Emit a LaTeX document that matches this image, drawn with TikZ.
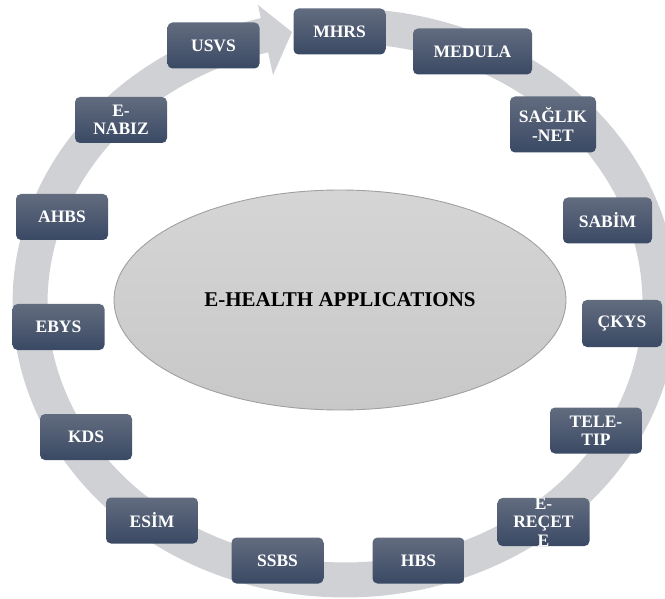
\documentclass[tikz,border=0pt]{standalone}
\usepackage{fontspec}
\setmainfont{Liberation Serif}
\newfontfamily\tnr{Liberation Serif}
\definecolor{ringcol}{RGB}{208,209,213}
\definecolor{boxtop}{RGB}{98,108,127}
\definecolor{boxbot}{RGB}{58,73,100}
\definecolor{elltop}{RGB}{213,213,213}
\definecolor{ellbot}{RGB}{200,200,200}
\definecolor{elldraw}{RGB}{160,160,160}
\usetikzlibrary{shapes.geometric}
\tikzset{
  box/.style={rectangle, rounded corners=5pt, top color=boxtop, bottom color=boxbot,
    minimum width=92pt, minimum height=46pt, inner sep=0pt, align=center,
    text=white, font=\tnr\bfseries\fontsize{17.5pt}{18.3pt}\selectfont},
  hub/.style={ellipse, top color=elltop, bottom color=ellbot, draw=elldraw, line width=0.9pt,
    minimum width=452pt, minimum height=220pt, inner sep=0pt,
    font=\tnr\bfseries\fontsize{21pt}{24pt}\selectfont},
  ringline/.style={draw=ringcol, line width=35pt, line cap=butt}
}
\begin{document}
\begin{tikzpicture}[x=1pt,y=-1pt]
\useasboundingbox (0,0) rectangle (665,599);
% circular arrow
\draw[ringline] plot[domain=-85.4:256, samples=240, variable=\t] ({345+315*cos(\t)},{303+277*sin(\t)});
\coordinate (h1) at (258,5);
\coordinate (h2) at (292,32);
\coordinate (h3) at (273,75);
\fill[ringcol] (h1) -- (h2) -- (h3) -- cycle;
% centre
\node[hub] (hub) at (340,300) {E-HEALTH APPLICATIONS};
% boxes
\node[box] (mhrs) at (339.5,31.5) {MHRS};
\node[box] (usvs) at (213.5,45.5) {USVS};
\node[box, minimum width=119pt] (medula) at (472.5,51.5) {MEDULA};
\node[box, minimum width=86pt, minimum height=56pt] (saglik) at (553,124.5) {SAĞLIK\\-NET};
\node[box, minimum width=89pt] (sabim) at (607.5,220.5) {SABİM};
\node[box, minimum width=80pt, minimum height=47pt] (ckys) at (622,323.5) {ÇKYS};
\node[box] (teletip) at (596,430.5) {TELE-\\TIP};
\node[box] (erecete) at (543.5,522) {E-\\REÇET\\E};
\node[box] (hbs) at (418.5,560.5) {HBS};
\node[box] (ssbs) at (277.5,560.5) {SSBS};
\node[box] (esim) at (152,520.5) {ESİM};
\node[box] (kds) at (86,437) {KDS};
\node[box] (ebys) at (58.5,327) {EBYS};
\node[box] (ahbs) at (62,217) {AHBS};
\node[box] (enabiz) at (121,120) {E-\\NABIZ};
\end{tikzpicture}
\end{document}
